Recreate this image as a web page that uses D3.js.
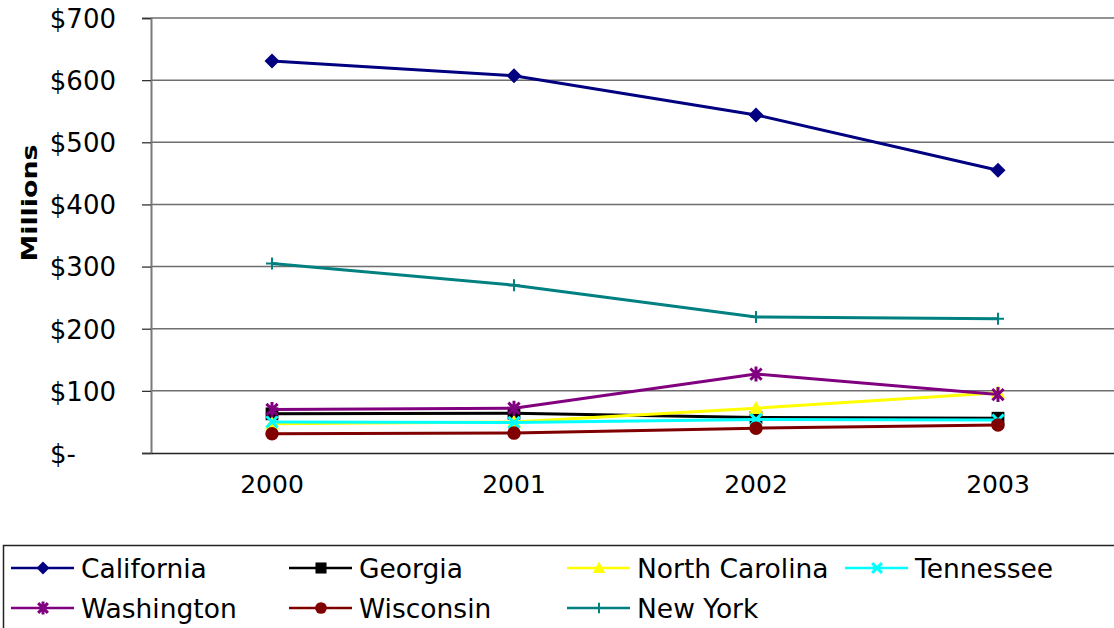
<!DOCTYPE html>
<html>
<head>
<meta charset="utf-8">
<script src="https://cdn.jsdelivr.net/npm/d3@7"></script>
<style>
  html, body { margin: 0; padding: 0; background: #fff; }
  svg { display: block; }
  text { font-family: "DejaVu Sans", Verdana, sans-serif; fill: #000; }
</style>
</head>
<body>
<svg id="chart" width="1114" height="628"></svg>
<script>
// Annual amounts by state, in millions of dollars
const years = ["2000", "2001", "2002", "2003"];
const yTicks = [0, 100, 200, 300, 400, 500, 600, 700];

const california    = [631, 607, 544, 455];
const georgia       = [63, 64, 57, 56];
const northCarolina = [47, 50, 72, 97];
const tennessee     = [50, 49, 54, 53];
const washington    = [70, 72, 127, 94];
const wisconsin     = [31, 32, 40, 45];
const newYork       = [305, 270, 219, 216];

const series = [
  { name: "California",     values: california,    color: "#000080", marker: "diamond" },
  { name: "Georgia",        values: georgia,       color: "#000000", marker: "square" },
  { name: "North Carolina", values: northCarolina, color: "#FFFF00", marker: "triangle" },
  { name: "Tennessee",      values: tennessee,     color: "#00FFFF", marker: "x" },
  { name: "Washington",     values: washington,    color: "#800080", marker: "star" },
  { name: "Wisconsin",      values: wisconsin,     color: "#800000", marker: "circle" },
  { name: "New York",       values: newYork,       color: "#008080", marker: "plus" }
];

const svg = d3.select("#chart");
const plot = { left: 151, right: 1119, top: 18, bottom: 453 };

const x = d3.scaleBand().domain(years).range([plot.left, plot.right]).padding(0);
const y = d3.scaleLinear().domain([0, 700]).range([plot.bottom, plot.top]);
const cx = d => x(d) + x.bandwidth() / 2;

// Horizontal gridlines
svg.append("g")
  .selectAll("line")
  .data(yTicks.filter(t => t > 0))
  .join("line")
  .attr("x1", plot.left).attr("x2", plot.right)
  .attr("y1", d => y(d)).attr("y2", d => y(d))
  .attr("stroke", "#6e6e6e").attr("stroke-width", 1.5);

// Value axis
const yAxis = svg.append("g")
  .attr("transform", `translate(${plot.left},0)`)
  .call(d3.axisLeft(y).tickValues(yTicks).tickSize(9).tickPadding(26)
    .tickFormat(d => d === 0 ? "$-" : "$" + d));
yAxis.select(".domain").attr("stroke", "#7a7a7a").attr("stroke-width", 2);
yAxis.selectAll(".tick line").attr("stroke", "#333").attr("stroke-width", 1.3);
yAxis.selectAll(".tick text")
  .style("font-size", "26px")
  .attr("fill", "#000")
  .attr("dx", d => d === 0 ? "-40" : "0")
  .attr("dy", "0.36em");

// Category axis
const xAxis = svg.append("g")
  .attr("transform", `translate(0,${plot.bottom})`)
  .call(d3.axisBottom(x).tickSize(0).tickPadding(31));
xAxis.select(".domain").attr("stroke", "#222").attr("stroke-width", 1.3);
xAxis.selectAll(".tick text").style("font-size", "25px").attr("fill", "#000").attr("dy", "0.36em");

// Axis title
svg.append("text")
  .attr("transform", "translate(37,203) rotate(-90)")
  .attr("text-anchor", "middle")
  .attr("textLength", 117)
  .attr("lengthAdjust", "spacingAndGlyphs")
  .style("font-size", "22px")
  .style("font-weight", "bold")
  .text("Millions");

// Marker shapes
function drawMarker(g, type, color, s) {
  const h = s / 2;
  switch (type) {
    case "diamond":
      g.append("path").attr("d", `M0,${-h}L${h},0L0,${h}L${-h},0Z`).attr("fill", color);
      break;
    case "square":
      g.append("rect").attr("x", -h * 0.85).attr("y", -h * 0.85)
        .attr("width", s * 0.85).attr("height", s * 0.85).attr("fill", color);
      break;
    case "triangle":
      g.append("path").attr("d", `M0,${-h}L${h * 0.95},${h * 0.75}L${-h * 0.95},${h * 0.75}Z`).attr("fill", color);
      break;
    case "x":
      g.append("path").attr("d", `M${-h * 0.75},${-h * 0.75}L${h * 0.75},${h * 0.75}M${-h * 0.75},${h * 0.75}L${h * 0.75},${-h * 0.75}`)
        .attr("stroke", color).attr("stroke-width", 3).attr("fill", "none");
      break;
    case "star":
      g.append("path").attr("d",
        `M${-h * 0.75},${-h * 0.75}L${h * 0.75},${h * 0.75}M${-h * 0.75},${h * 0.75}L${h * 0.75},${-h * 0.75}M0,${-h}L0,${h}`)
        .attr("stroke", color).attr("stroke-width", 3).attr("fill", "none");
      break;
    case "circle":
      g.append("circle").attr("r", h * 0.9).attr("fill", color);
      break;
    case "plus":
      g.append("path").attr("d", `M${-h * 0.8},0L${h * 0.8},0M0,${-h * 0.8}L0,${h * 0.8}`)
        .attr("stroke", color).attr("stroke-width", 2).attr("fill", "none");
      break;
  }
}

// Series lines and markers
const line = d3.line().x((d, i) => cx(years[i])).y(d => y(d));
series.forEach(s => {
  const g = svg.append("g");
  g.append("path")
    .attr("d", line(s.values))
    .attr("fill", "none")
    .attr("stroke", s.color)
    .attr("stroke-width", 3)
    .attr("stroke-linejoin", "round");
  g.selectAll("g.m")
    .data(s.values)
    .join("g")
    .attr("class", "m")
    .attr("transform", (d, i) => `translate(${cx(years[i])},${y(d)})`)
    .each(function () { drawMarker(d3.select(this), s.marker, s.color, 15); });
});

// Legend
const legend = svg.append("g");
legend.append("rect")
  .attr("x", 3.5).attr("y", 545.5).attr("width", 1130).attr("height", 100)
  .attr("fill", "#fff").attr("stroke", "#222").attr("stroke-width", 1.5);

const colX = [11, 289, 567, 845];
const rowY = [568, 608];
series.forEach((s, i) => {
  const col = i < 4 ? i : i - 4;
  const row = i < 4 ? 0 : 1;
  const lx = colX[col], ly = rowY[row];
  const item = legend.append("g").attr("transform", `translate(${lx},${ly})`);
  item.append("line").attr("x1", 0).attr("x2", 63).attr("y1", 0).attr("y2", 0)
    .attr("stroke", s.color).attr("stroke-width", 2.5);
  const m = item.append("g").attr("transform", "translate(32,0)");
  drawMarker(m, s.marker, s.color, 13);
  item.append("text")
    .attr("x", 70).attr("y", 0).attr("dy", "0.36em")
    .style("font-size", "26.5px")
    .text(s.name);
});
</script>
</body>
</html>
